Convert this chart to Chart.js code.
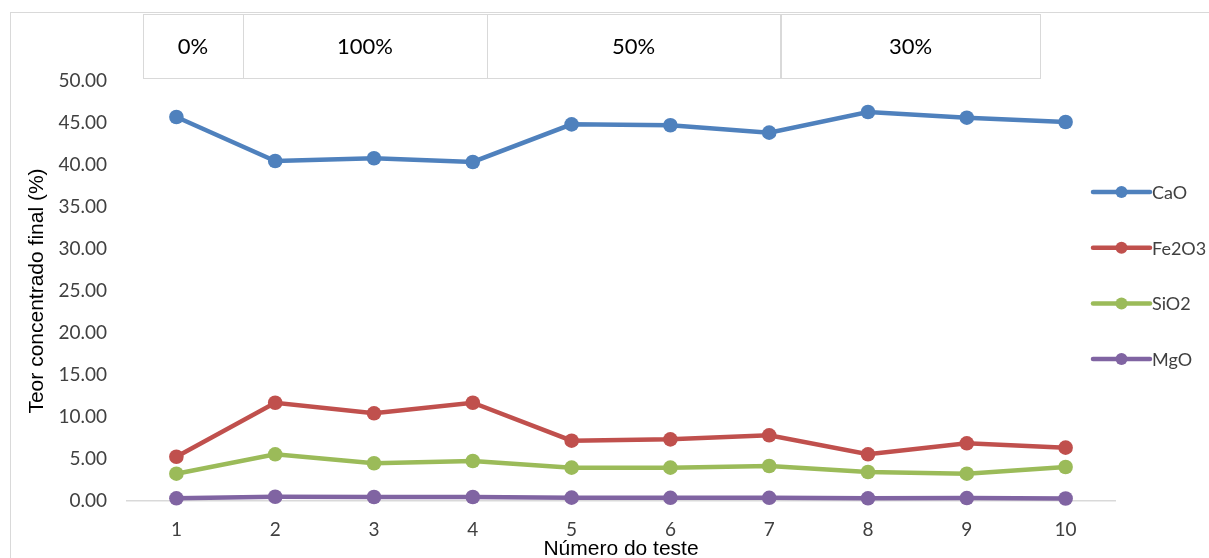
<!DOCTYPE html>
<html>
<head>
<meta charset="utf-8">
<script src="https://cdn.jsdelivr.net/npm/chart.js@4/dist/chart.umd.min.js"></script>
<style>
  html, body { margin: 0; padding: 0; background: #fff; }
  #wrap { width: 1209px; height: 558px; position: relative; overflow: hidden; }
</style>
</head>
<body>
<div id="wrap"><canvas id="c" width="1209" height="558"></canvas></div>
<script>
// Test numbers (x categories)
const tests = ['1', '2', '3', '4', '5', '6', '7', '8', '9', '10'];

// Final concentrate grade per oxide (%)
const cao   = [45.71, 40.48, 40.80, 40.36, 44.84, 44.73, 43.85, 46.31, 45.63, 45.12];
const fe2o3 = [5.27, 11.70, 10.44, 11.70, 7.18, 7.34, 7.82, 5.56, 6.87, 6.35];
const sio2  = [3.25, 5.56, 4.49, 4.76, 3.97, 3.97, 4.17, 3.45, 3.25, 4.05];
const mgo   = [0.32, 0.51, 0.48, 0.48, 0.40, 0.38, 0.38, 0.32, 0.35, 0.30];

const seriesNames = ['CaO', 'Fe2O3', 'SiO2', 'MgO'];
const seriesColors = ['#4F81BD', '#C0504D', '#9BBB59', '#8064A2'];

// Header groups above the plot
const groupLabels = ['0%', '100%', '50%', '30%'];
const groupBoxes = [[143, 243], [243, 487], [487, 780], [781, 1040]];

const yTicks = { min: 0, max: 50, step: 5 };

const TICK_FONT = 'Lato, "Liberation Sans", sans-serif';
const TITLE_FONT = '"Liberation Sans", Arial, sans-serif';

// White page, outer frame and header boxes
const frameAndHeader = {
  id: 'frameAndHeader',
  beforeDraw(chart) {
    const ctx = chart.ctx;
    ctx.save();
    ctx.fillStyle = '#ffffff';
    ctx.fillRect(0, 0, chart.width, chart.height);
    ctx.strokeStyle = '#D9D9D9';
    ctx.lineWidth = 1;
    ctx.strokeRect(10.5, 12.5, chart.width + 20, chart.height + 20);
    ctx.font = '22px ' + TICK_FONT;
    ctx.textAlign = 'center';
    ctx.textBaseline = 'middle';
    groupBoxes.forEach((b, i) => {
      ctx.strokeStyle = '#D9D9D9';
      ctx.strokeRect(b[0] + 0.5, 14.5, b[1] - b[0], 64);
      ctx.fillStyle = '#000000';
      ctx.fillText(groupLabels[i], (b[0] + b[1]) / 2, 47);
    });
    ctx.restore();
  }
};

// Legend on the right: line with a marker, then the series name
const sideLegend = {
  id: 'sideLegend',
  afterDraw(chart) {
    const ctx = chart.ctx;
    ctx.save();
    const x0 = 1093, x1 = 1150, top = 192, gap = 55.7;
    chart.data.datasets.forEach((ds, i) => {
      const y = top + i * gap;
      ctx.strokeStyle = ds.borderColor;
      ctx.lineWidth = 4.5;
      ctx.lineCap = 'round';
      ctx.beginPath();
      ctx.moveTo(x0, y);
      ctx.lineTo(x1, y);
      ctx.stroke();
      ctx.fillStyle = ds.backgroundColor;
      ctx.beginPath();
      ctx.arc((x0 + x1) / 2, y, 6, 0, Math.PI * 2);
      ctx.fill();
      ctx.fillStyle = '#404040';
      ctx.font = '18px ' + TICK_FONT;
      ctx.textAlign = 'left';
      ctx.textBaseline = 'middle';
      ctx.fillText(ds.label, x1 + 2, y + 1);
    });
    ctx.restore();
  }
};

const seriesData = [cao, fe2o3, sio2, mgo];

new Chart(document.getElementById('c'), {
  type: 'line',
  data: {
    labels: tests,
    datasets: seriesData.map((d, i) => ({
      label: seriesNames[i],
      data: d,
      borderColor: seriesColors[i],
      backgroundColor: seriesColors[i],
      borderWidth: 4.5,
      pointRadius: 7.3,
      pointHoverRadius: 7.3,
      pointBorderWidth: 0,
      tension: 0,
      clip: false
    }))
  },
  options: {
    responsive: false,
    animation: false,
    devicePixelRatio: 1,
    layout: { padding: { top: 81, right: 94, bottom: 0, left: 0 } },
    plugins: {
      legend: { display: false },
      tooltip: { enabled: false }
    },
    scales: {
      x: {
        offset: true,
        grid: { display: false, drawTicks: false },
        border: { display: true, color: '#D9D9D9', width: 1.5 },
        ticks: { color: '#404040', font: { family: TICK_FONT, size: 19 }, padding: 17 },
        title: {
          display: true,
          text: 'Número do teste',
          color: '#000000',
          font: { family: TITLE_FONT, size: 21, lineHeight: 1 },
          padding: { top: 0, bottom: -2 }
        },
        afterFit(scale) { scale.height = 57; }
      },
      y: {
        min: yTicks.min,
        max: yTicks.max,
        grid: { display: false, drawTicks: false },
        border: { display: false },
        ticks: {
          stepSize: yTicks.step,
          color: '#404040',
          font: { family: TICK_FONT, size: 19 },
          padding: 20,
          callback: v => Number(v).toFixed(2)
        },
        title: {
          display: true,
          text: 'Teor concentrado final (%)',
          color: '#000000',
          font: { family: TITLE_FONT, size: 21, lineHeight: 1 },
          padding: { top: 27, bottom: 0 }
        },
        afterFit(scale) { scale.width = 127; }
      }
    }
  },
  plugins: [frameAndHeader, sideLegend]
});
</script>
</body>
</html>
